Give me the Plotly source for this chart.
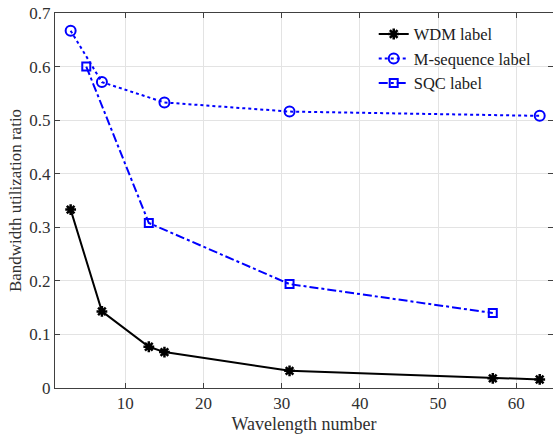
import plotly.graph_objects as go

# Data
wdm_x = [3, 7, 13, 15, 31, 57, 63]
wdm_y = [0.333, 0.143, 0.077, 0.067, 0.032, 0.018, 0.016]

mseq_x = [3, 7, 15, 31, 63]
mseq_y = [0.667, 0.571, 0.533, 0.516, 0.508]

sqc_x = [5, 13, 31, 57]
sqc_y = [0.600, 0.308, 0.194, 0.140]

x_ticks = [10, 20, 30, 40, 50, 60]
y_ticks = [0, 0.1, 0.2, 0.3, 0.4, 0.5, 0.6, 0.7]

FONT = "Liberation Serif, Times New Roman, serif"

fig = go.Figure()
fig.add_trace(go.Scatter(
    x=wdm_x, y=wdm_y, name="WDM label", mode="lines+markers",
    line=dict(color="black", width=2, dash="solid"),
    marker=dict(symbol="asterisk-open", size=9, color="black",
                line=dict(color="black", width=2.5)),
))
fig.add_trace(go.Scatter(
    x=mseq_x, y=mseq_y, name="M-sequence label", mode="lines+markers",
    line=dict(color="#0000ff", width=2, dash="dot"),
    marker=dict(symbol="circle-open", size=10, color="#0000ff",
                line=dict(color="#0000ff", width=2)),
))
fig.add_trace(go.Scatter(
    x=sqc_x, y=sqc_y, name="SQC label", mode="lines+markers",
    line=dict(color="#0000ff", width=2, dash="dashdot"),
    marker=dict(symbol="square-open", size=8, color="#0000ff",
                line=dict(color="#0000ff", width=2)),
))

axis_common = dict(
    showgrid=True, gridcolor="#e3e3e3", gridwidth=1,
    showline=True, linecolor="#404040", linewidth=1, mirror="ticks",
    ticks="inside", ticklen=5, tickcolor="#404040",
    zeroline=False, automargin=False, ticklabeloverflow="allow",
    tickfont=dict(family=FONT, size=17, color="#303030"),
)

fig.update_layout(
    width=553, height=436,
    margin=dict(l=55, r=0, t=13, b=48),
    paper_bgcolor="white", plot_bgcolor="white",
    font=dict(family=FONT, size=16, color="#303030"),
    xaxis=dict(range=[1, 64.7], tickvals=x_ticks,
               title=dict(text="Wavelength number", font=dict(family=FONT, size=18), standoff=4),
               **axis_common),
    yaxis=dict(range=[0, 0.7], tickvals=y_ticks,
               ticktext=[("0" if v == 0 else f"{v:.1f}") for v in y_ticks],
               title=dict(text="Bandwidth utilization ratio", font=dict(family=FONT, size=17), standoff=3),
               **axis_common),
    legend=dict(x=0.64, y=0.99, xanchor="left", yanchor="top",
                bgcolor="rgba(0,0,0,0)", font=dict(family=FONT, size=16.5, color="#202020"),
                itemwidth=30, tracegroupgap=0),
    showlegend=True,
)

# Remove the browser's default body margin so the figure fills the window
fig.write_html(
    "out.html",
    config={"displayModeBar": False},
    post_script="document.body.style.margin='0';document.body.style.overflow='hidden';",
)
